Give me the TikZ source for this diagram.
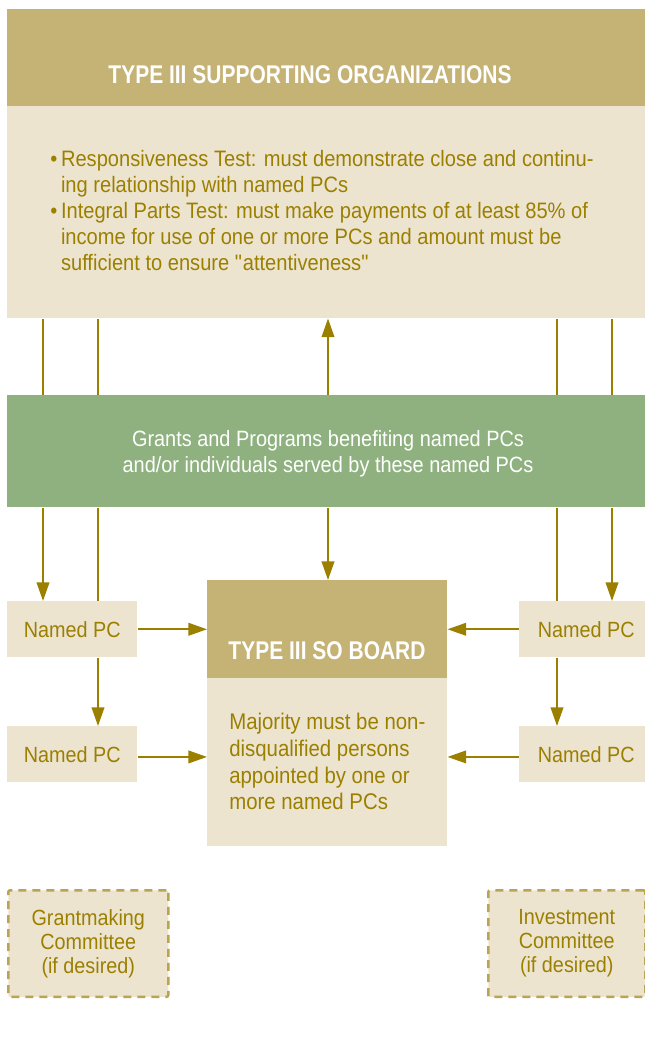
\documentclass[tikz,border=0pt]{standalone}
\usepackage{fontspec}
\setmainfont{Liberation Sans}[FakeStretch=0.9]
\newfontfamily\headfont{Liberation Sans}[FakeStretch=0.82]
\usepackage{xcolor}
\usepackage{tikz}
\usetikzlibrary{arrows.meta,positioning,calc}
\definecolor{sohead}{RGB}{197,178,117}
\definecolor{sobody}{RGB}{237,228,208}
\definecolor{sogreen}{RGB}{143,177,128}
\definecolor{sogold}{RGB}{155,128,0}
\definecolor{sodash}{RGB}{185,164,84}

\tikzset{
  panel/.style={inner sep=0pt, anchor=north west},
  headbox/.style={panel, fill=sohead},
  bodybox/.style={panel, fill=sobody},
  pcbox/.style={bodybox, minimum height=42pt, text=sogold,
    font=\fontsize{16.5}{20}\selectfont},
  optbox/.style={bodybox, draw=sodash, line width=1.9pt,
    dash pattern=on 6pt off 4.5pt, rounded corners=1.5pt,
    minimum height=80pt, text=sogold, align=center,
    font=\fontsize{16.5}{18}\selectfont},
  headtext/.style={text=white, font=\headfont\bfseries\fontsize{19.2}{23}\selectfont},
  link/.style={draw=sogold, line width=1.3pt},
  arr/.style={link, -{Triangle[length=14pt, width=9.5pt]}}
}

\begin{document}
\begin{tikzpicture}[x=0.75pt, y=-0.75pt]
\useasboundingbox (0,0) rectangle (645,1046);
\clip (0,0) rectangle (645,1046);
\fill[white] (0,0) rectangle (645,1046);
% columns of the connectors
\coordinate (colA) at (43,0);
\coordinate (colB) at (98,0);
\coordinate (colM) at (328,0);
\coordinate (colC) at (557,0);
\coordinate (colD) at (612,0);
% top panel
\node[headbox, minimum width=482.25pt, minimum height=72.75pt] (soHead) at (7,9) {};
\node[headtext] (soTitle) at (310,75) {TYPE III SUPPORTING ORGANIZATIONS};
\node[bodybox, minimum width=482.25pt, minimum height=159pt] (soBody) at (7,106) {};
\node[panel, text=sogold, align=left, font=\fontsize{16.75}{19.5}\selectfont]
  (soTests) at (50,150)
  {\textbullet\,Responsiveness Test: must demonstrate close and continu-\\
   \hphantom{\textbullet\,}ing relationship with named PCs\\
   \textbullet\,Integral Parts Test: must make payments of at least 85\% of\\
   \hphantom{\textbullet\,}income for use of one or more PCs and amount must be\\
   \hphantom{\textbullet\,}sufficient to ensure \textquotedbl attentiveness\textquotedbl};
% grants band
\node[panel, fill=sogreen, minimum width=482.25pt, minimum height=84pt] (grants) at (7,395) {};
\node[text=white, align=center, font=\fontsize{16.6}{19.5}\selectfont]
  (grantsText) at (328,454)
  {Grants and Programs benefiting named PCs\\
   and/or individuals served by these named PCs};
% named PCs
\node[pcbox, minimum width=97.5pt] (pcA) at (7,601) {};
\node[pcbox, minimum width=97.5pt] (pcB) at (7,726) {};
\node[pcbox, minimum width=100.5pt] (pcC) at (519,601) {};
\node[pcbox, minimum width=100.5pt] (pcD) at (519,726) {};
\foreach \p in {pcA,pcB,pcC,pcD}
  \node[text=sogold, font=\fontsize{16.5}{20}\selectfont] at (\p) {Named PC};
% board
\node[headbox, minimum width=180pt, minimum height=73.5pt] (boardHead) at (207,580) {};
\node[headtext] (boardTitle) at (327,651) {TYPE III SO BOARD};
\node[bodybox, minimum width=180pt, minimum height=126pt] (boardBody) at (207,678) {};
\node[panel, text=sogold, align=left, font=\fontsize{17}{20}\selectfont]
  (boardText) at (229,713)
  {Majority must be non-\\disqualified persons\\appointed by one or\\more named PCs};
% optional committees
\node[optbox, minimum width=120pt] (grantCom) at (7,889)
  {Grantmaking\\Committee\\(if desired)};
\node[optbox, minimum width=117.75pt] (investCom) at (487,889)
  {Investment\\Committee\\(if desired)};
% connectors
\draw[link] (grants.north -| colA) -- (soBody.south -| colA);
\draw[link] (grants.north -| colB) -- (soBody.south -| colB);
\draw[arr] (grants.north -| colM) -- (soBody.south -| colM);
\draw[link] (grants.north -| colC) -- (soBody.south -| colC);
\draw[link] (grants.north -| colD) -- (soBody.south -| colD);
\draw[arr] (grants.south -| colA) -- (pcA.north -| colA);
\draw[link] (grants.south -| colB) -- (pcA.north -| colB);
\draw[arr] (grants.south -| colM) -- (boardHead.north -| colM);
\draw[link] (grants.south -| colC) -- (pcC.north -| colC);
\draw[arr] (grants.south -| colD) -- (pcC.north -| colD);
\draw[arr] (pcA.south -| colB) -- (pcB.north -| colB);
\draw[arr] (pcC.south -| colC) -- (pcD.north -| colC);
\draw[arr] (pcA.east) -- (pcA.east -| boardHead.west);
\draw[arr] ([yshift=-2pt]pcB.east) -- ([yshift=-2pt]pcB.east -| boardBody.west);
\draw[arr] (pcC.west) -- (pcC.west -| boardHead.east);
\draw[arr] ([yshift=-2pt]pcD.west) -- ([yshift=-2pt]pcD.west -| boardBody.east);
\end{tikzpicture}
\end{document}
